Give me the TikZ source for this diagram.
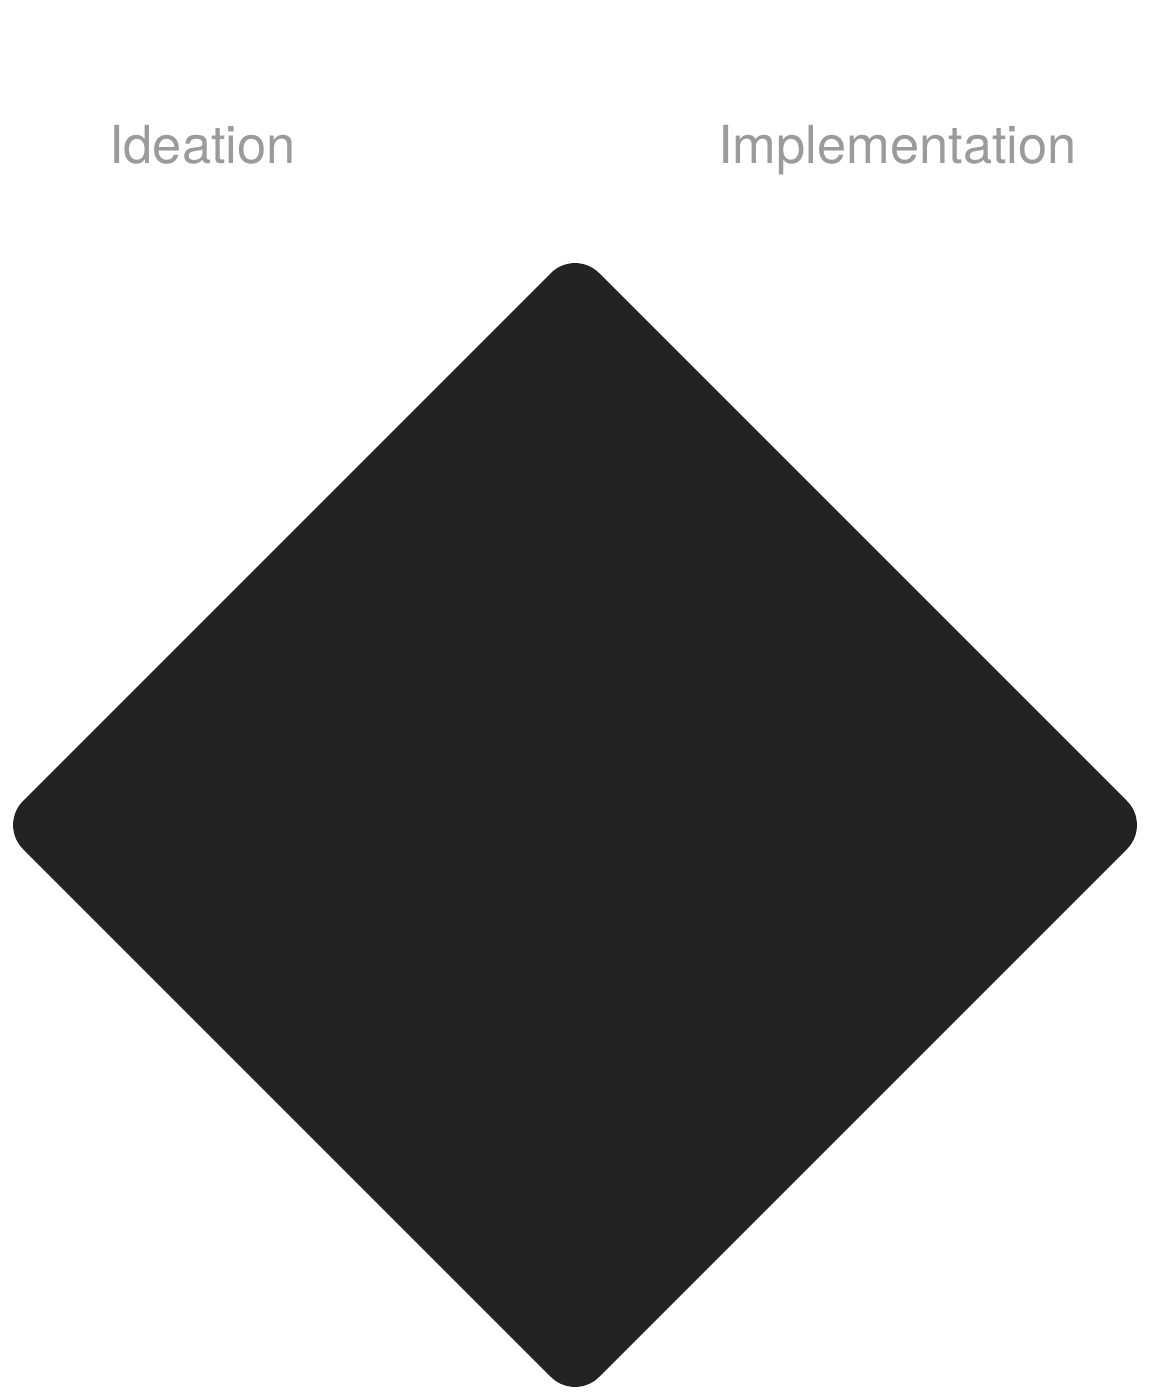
\documentclass[tikz,border=0pt]{standalone}
\usepackage{fontspec}
\setmainfont{TeX Gyre Heros}
\definecolor{diamondfill}{HTML}{232323}
\definecolor{labelgray}{HTML}{9B9B9B}
\begin{document}
\begin{tikzpicture}[x=0.5pt,y=-0.5pt,
  phase/.style={text=labelgray,font=\fontsize{26.2}{30}\selectfont,anchor=base,inner sep=0pt},
  bigdiamond/.style={fill=diamondfill,draw=none,rounded corners=17pt}]
\useasboundingbox (0,0) rectangle (1150,1400);
\fill[white] (0,0) rectangle (1150,1400);
\coordinate (T) at (575,249);
\coordinate (R) at (1151,825);
\coordinate (B) at (575,1401);
\coordinate (L) at (-1,825);
\path[bigdiamond] (T) -- (R) -- (B) -- (L) -- cycle;
\node[phase] (ideation) at (202.5,164) {Ideation};
\node[phase] (implementation) at (897.5,164) {Implementation};
\end{tikzpicture}
\end{document}
